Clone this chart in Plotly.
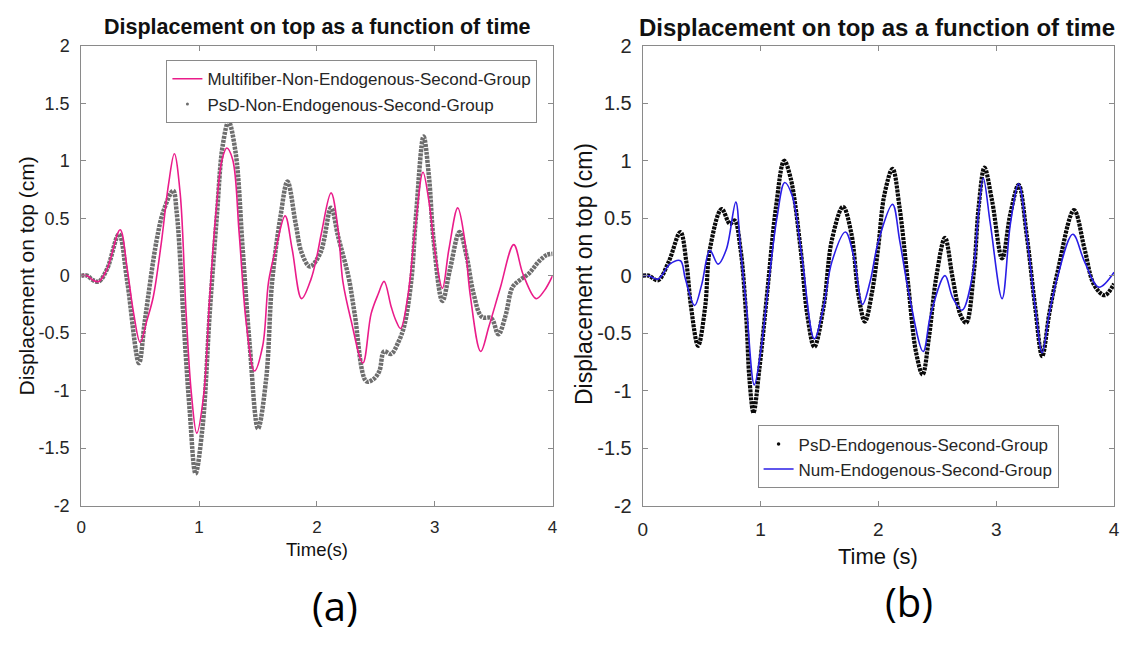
import plotly.graph_objects as go

# ---- panel (a): non-endogenous, second group ----
t_multi = [0, 0.05, 0.10, 0.15, 0.22, 0.33, 0.39, 0.445, 0.50, 0.557, 0.61, 0.68, 0.74, 0.79,
           0.84, 0.89, 0.935, 0.98, 1.04, 1.09, 1.145, 1.195, 1.235, 1.285, 1.34, 1.40, 1.47,
           1.54, 1.59, 1.65, 1.73, 1.79, 1.87, 1.95, 2.00, 2.04, 2.12, 2.18, 2.22, 2.29, 2.39,
           2.46, 2.52, 2.57, 2.63, 2.67, 2.71, 2.77, 2.83, 2.90, 2.95, 3.01, 3.065, 3.12, 3.195,
           3.25, 3.30, 3.39, 3.46, 3.555, 3.67, 3.75, 3.86, 3.93, 4.0]
d_multi = [0, 0.0, -0.04, -0.05, 0.06, 0.40, 0.06, -0.33, -0.58, -0.39, -0.19, 0.29, 0.79, 1.06,
           0.71, -0.33, -1.03, -1.37, -1.03, -0.19, 0.57, 1.01, 1.11, 1.01, 0.37, -0.41, -0.83,
           -0.61, -0.05, 0.23, 0.52, 0.23, -0.20, -0.03, 0.17, 0.38, 0.72, 0.40, -0.05, -0.39, -0.76,
           -0.33, -0.16, -0.05, -0.27, -0.39, -0.46, -0.19, 0.37, 0.90, 0.65, 0.15, -0.11, 0.23, 0.59,
           0.34, -0.16, -0.66, -0.44, -0.11, 0.27, 0.01, -0.20, -0.13, 0.0]

t_psd_a = [0, 0.05, 0.10, 0.15, 0.22, 0.32, 0.39, 0.49, 0.54, 0.64, 0.70, 0.78, 0.81, 0.845,
           0.865, 0.92, 0.97, 1.03, 1.09, 1.15, 1.20, 1.25, 1.31, 1.37, 1.43, 1.50, 1.57, 1.62,
           1.69, 1.75, 1.82, 1.87, 1.94, 2.03, 2.12, 2.18, 2.27, 2.32, 2.42, 2.48, 2.53, 2.57,
           2.63, 2.69, 2.74, 2.80, 2.84, 2.905, 2.95, 2.99, 3.065, 3.13, 3.21, 3.27, 3.33, 3.40,
           3.48, 3.54, 3.60, 3.66, 3.72, 3.80, 3.88, 3.95, 4.0]
d_psd_a = [0, 0.0, -0.04, -0.05, 0.06, 0.36, -0.05, -0.76, -0.39, 0.31, 0.57, 0.74, 0.55, 0.05,
           -0.33, -1.17, -1.72, -1.31, -0.33, 0.51, 1.13, 1.34, 1.07, 0.23, -0.61, -1.33, -0.89, -0.05,
           0.51, 0.82, 0.45, 0.20, 0.08, 0.20, 0.59, 0.34, -0.02, -0.33, -0.92, -0.90, -0.83, -0.66,
           -0.68, -0.58, -0.44, -0.05, 0.51, 1.21, 0.87, 0.31, -0.22, 0.06, 0.38, 0.17, -0.16, -0.36,
           -0.37, -0.51, -0.35, -0.10, -0.04, 0.02, 0.12, 0.18, 0.19]

# ---- panel (b): endogenous, second group ----
t_psd_b = [0, 0.05, 0.13, 0.22, 0.32, 0.37, 0.41, 0.47, 0.53, 0.57, 0.67, 0.74, 0.78, 0.83,
           0.88, 0.905, 0.94, 0.99, 1.06, 1.13, 1.20, 1.255, 1.34, 1.395, 1.456, 1.535, 1.605,
           1.70, 1.77, 1.83, 1.885, 1.95, 2.00, 2.05, 2.12, 2.18, 2.25, 2.32, 2.375, 2.43, 2.49,
           2.565, 2.63, 2.70, 2.745, 2.81, 2.85, 2.90, 2.965, 3.05, 3.12, 3.19, 3.26, 3.33, 3.39,
           3.45, 3.52, 3.66, 3.75, 3.83, 3.92, 4.0]
d_psd_b = [0, 0.0, -0.04, 0.12, 0.38, 0.12, -0.27, -0.61, -0.27, 0.23, 0.58, 0.45, 0.48, 0.23,
           -0.39, -0.89, -1.19, -0.81, -0.11, 0.59, 1.00, 0.85, 0.23, -0.33, -0.62, -0.27, 0.31,
           0.60, 0.37, -0.16, -0.40, -0.12, 0.26, 0.70, 0.93, 0.59, -0.05, -0.67, -0.86, -0.53, -0.02,
           0.33, -0.02, -0.35, -0.41, 0.03, 0.59, 0.94, 0.65, 0.15, 0.54, 0.79, 0.34, -0.27, -0.70,
           -0.33, 0.03, 0.57, 0.23, -0.08, -0.17, -0.07]

t_num = [0, 0.05, 0.13, 0.23, 0.32, 0.36, 0.44, 0.50, 0.57, 0.64, 0.71, 0.79, 0.83, 0.88,
         0.947, 1.00, 1.07, 1.14, 1.205, 1.27, 1.35, 1.456, 1.535, 1.605, 1.72, 1.79, 1.865,
         1.93, 2.00, 2.12, 2.18, 2.26, 2.38, 2.445, 2.565, 2.63, 2.71, 2.80, 2.85, 2.89, 2.95,
         3.05, 3.12, 3.19, 3.26, 3.33, 3.39, 3.45, 3.52, 3.65, 3.75, 3.87, 4.0]
d_num = [0, 0.0, -0.03, 0.10, 0.13, -0.02, -0.26, -0.08, 0.22, 0.10, 0.23, 0.64, 0.23, -0.27,
         -0.95, -0.67, -0.05, 0.51, 0.81, 0.69, 0.17, -0.55, -0.27, 0.12, 0.38, 0.17, -0.25,
         -0.05, 0.30, 0.62, 0.31, -0.16, -0.66, -0.33, 0.0, -0.19, -0.30, 0.01, 0.55, 0.85, 0.45,
         -0.20, 0.45, 0.80, 0.34, -0.27, -0.67, -0.33, -0.01, 0.36, 0.12, -0.10, 0.03]

x_ticks = [0, 1, 2, 3, 4]
y_ticks = [-2, -1.5, -1, -0.5, 0, 0.5, 1, 1.5, 2]
y_ticktext = ["-2", "-1.5", "-1", "-0.5", "0", "0.5", "1", "1.5", "2"]

title_text = "Displacement on top as a function of time"
ylabel_text = "Displacement on top (cm)"

PINK = "#ea1c8a"
GRAY = "#6e6e6e"
BLACK = "#0a0a0a"
BLUE = "#2a1ee6"
AXIS = "#8a8a8a"
TXT = "#262626"
FONT = "Liberation Sans, Arial, sans-serif"

W, H = 1128, 646
def px(x):
    return x / W
def py(y):
    return 1 - y / H

fig = go.Figure()

# panel (a)
fig.add_trace(go.Scatter(x=t_psd_a, y=d_psd_a, mode="lines", line_shape="spline",
                         line=dict(color=GRAY, width=4.5, dash="3px,1px"),
                         xaxis="x", yaxis="y", showlegend=False, hoverinfo="skip"))
fig.add_trace(go.Scatter(x=t_multi, y=d_multi, mode="lines", line_shape="spline",
                         line=dict(color=PINK, width=1.6),
                         name="Multifiber-Non-Endogenous-Second-Group",
                         xaxis="x", yaxis="y", legend="legend", legendrank=1))
fig.add_trace(go.Scatter(x=[None], y=[None], mode="markers",
                         marker=dict(color=GRAY, size=3),
                         name="PsD-Non-Endogenous-Second-Group",
                         xaxis="x", yaxis="y", legend="legend", legendrank=2))

# panel (b)
fig.add_trace(go.Scatter(x=t_psd_b, y=d_psd_b, mode="lines", line_shape="spline",
                         line=dict(color=BLACK, width=4.2, dash="3px,1px"),
                         xaxis="x2", yaxis="y2", showlegend=False, hoverinfo="skip"))
fig.add_trace(go.Scatter(x=t_num, y=d_num, mode="lines", line_shape="spline",
                         line=dict(color=BLUE, width=1.6),
                         name="Num-Endogenous-Second-Group",
                         xaxis="x2", yaxis="y2", legend="legend2", legendrank=2))
fig.add_trace(go.Scatter(x=[None], y=[None], mode="markers",
                         marker=dict(color=BLACK, size=3.5),
                         name="PsD-Endogenous-Second-Group",
                         xaxis="x2", yaxis="y2", legend="legend2", legendrank=1))

def xaxis(domain, size, anchor, standoff):
    return dict(domain=domain, range=[0, 4], tickvals=x_ticks, ticks="inside", ticklen=5,
                tickcolor=AXIS, mirror="allticks", showline=True, linecolor=AXIS, linewidth=1,
                showgrid=False, zeroline=False, anchor=anchor,
                tickfont=dict(family=FONT, size=size, color=TXT), ticklabelstandoff=standoff)

def yaxis(domain, size, anchor, standoff):
    return dict(domain=domain, range=[-2, 2], tickvals=y_ticks, ticktext=y_ticktext,
                ticks="inside", ticklen=5, tickcolor=AXIS, mirror="allticks", showline=True,
                linecolor=AXIS, linewidth=1, showgrid=False, zeroline=False, anchor=anchor,
                tickfont=dict(family=FONT, size=size, color=TXT), ticklabelstandoff=standoff)

ydom = [py(512), py(36)]
legend_common = dict(xanchor="left", yanchor="top", bgcolor="white", bordercolor=AXIS,
                     borderwidth=1, itemwidth=30, tracegroupgap=0,
                     font=dict(family=FONT, size=17, color=TXT))
fig.update_layout(
    width=W, height=H, margin=dict(l=0, r=0, t=0, b=0),
    paper_bgcolor="white", plot_bgcolor="white",
    xaxis=xaxis([px(77), px(553)], 17, "y", 6),
    yaxis=yaxis(ydom, 18, "x", 7),
    xaxis2=xaxis([px(644), px(1120)], 19, "y2", 7),
    yaxis2=yaxis(ydom, 20, "x2", 6),
    legend=dict(x=px(163), y=py(51), **legend_common),
    legend2=dict(x=px(760), y=py(429), **legend_common),
    showlegend=True,
)

ann = [
    dict(text="<b>" + title_text + "</b>", x=px(316), y=py(17), size=21.5),
    dict(text="<b>" + title_text + "</b>", x=px(881), y=py(17), size=24),
    dict(text="Time(s)", x=px(315), y=py(557), size=18.5),
    dict(text="Time (s)", x=px(882), y=py(565), size=22),
    dict(text=ylabel_text, x=px(22), y=py(274), size=21, angle=-90),
    dict(text=ylabel_text, x=px(584), y=py(272), size=23, angle=-90),
]
for a in ann:
    fig.add_annotation(text=a["text"], x=a["x"], y=a["y"], xref="paper", yref="paper",
                       xanchor="center", yanchor="middle", showarrow=False,
                       textangle=a.get("angle", 0),
                       font=dict(family=FONT, size=a["size"], color="#111111"))

for label, cx, cy in [("(a)", 333, 615), ("(b)", 913, 611)]:
    fig.add_annotation(text=label, x=px(cx), y=py(cy), xref="paper", yref="paper",
                       xanchor="center", yanchor="middle", showarrow=False,
                       font=dict(family="Open Sans, sans-serif", size=40, color="#000000"))

fig.write_html("out.html")
